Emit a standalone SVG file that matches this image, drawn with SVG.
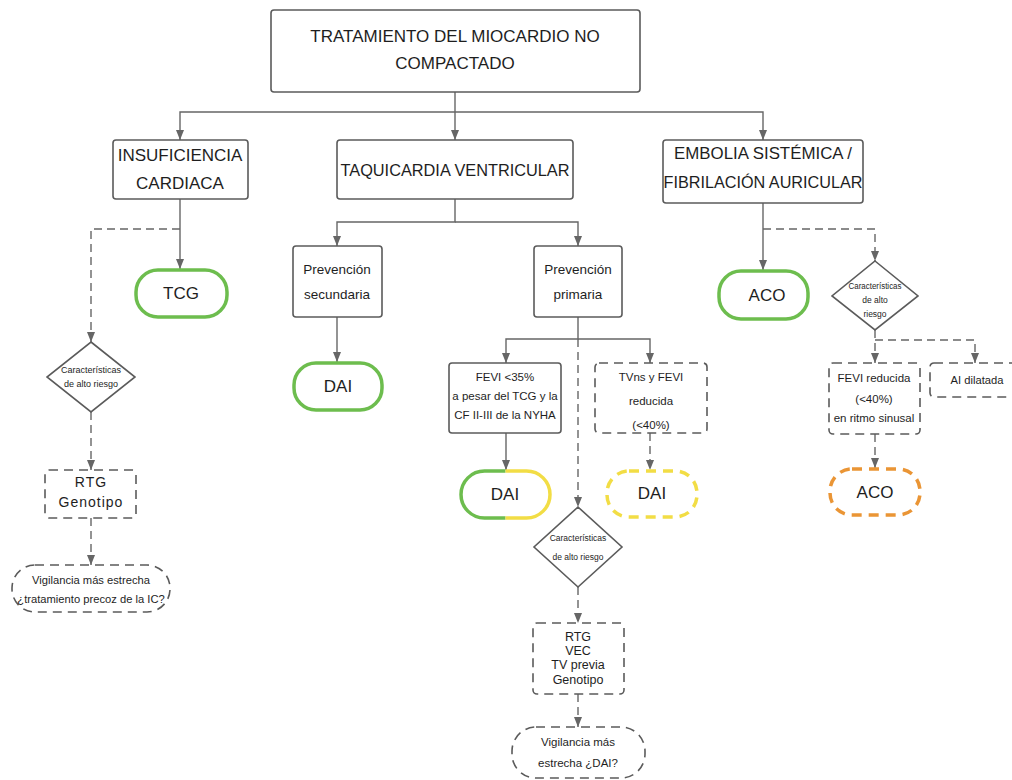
<svg xmlns="http://www.w3.org/2000/svg" width="1012" height="780" viewBox="0 0 1012 780">
<defs>
<style>
.box{fill:#fff;stroke:#5b5b5b;stroke-width:1.6}
.dbox{fill:#fff;stroke:#5b5b5b;stroke-width:1.6;stroke-dasharray:9 6}
.ln{fill:none;stroke:#666;stroke-width:1.4}
.dl{fill:none;stroke:#666;stroke-width:1.4;stroke-dasharray:8 5}
.gp{fill:#fff;stroke:#6dbd4e;stroke-width:3.5}
.yp{fill:none;stroke:#f2dd45;stroke-width:3.5}
.ypd{fill:#fff;stroke:#f2dd45;stroke-width:3.5;stroke-dasharray:10 7}
.op{fill:#fff;stroke:#ea9535;stroke-width:3.5;stroke-dasharray:10 7}
.t{font-family:"Liberation Sans",Arial,Helvetica,sans-serif;fill:#1e1e1e;text-anchor:middle}
.h{font-size:17px}
.m{font-size:13.5px}
.s{font-size:11.5px}
.xs{font-size:9px}
</style>
<marker id="ah" viewBox="0 0 10 8" refX="10" refY="4" markerWidth="10" markerHeight="8" orient="auto" markerUnits="userSpaceOnUse">
<path d="M0,0 L10,4 L0,8 z" fill="#666"/>
</marker>
</defs>
<rect width="1012" height="780" fill="#fff"/>

<g id="connectors">
<path class="ln" d="M455,92 V140" marker-end="url(#ah)"/>
<path class="ln" d="M455,112 H180 V140" marker-end="url(#ah)"/>
<path class="ln" d="M455,112 H763 V140" marker-end="url(#ah)"/>
<path class="ln" d="M180,199 V269" marker-end="url(#ah)"/>
<path class="dl" d="M180,229 H91 V342" marker-end="url(#ah)"/>
<path class="dl" d="M91,412 V470" marker-end="url(#ah)"/>
<path class="dl" d="M91,518 V565" marker-end="url(#ah)"/>
<path class="ln" d="M455,199 V222 H337 V246" marker-end="url(#ah)"/>
<path class="ln" d="M455,222 H578 V246" marker-end="url(#ah)"/>
<path class="ln" d="M337,317 V362" marker-end="url(#ah)"/>
<path class="ln" d="M578,317 V339 H506 V363" marker-end="url(#ah)"/>
<path class="ln" d="M578,339 H650 V363" marker-end="url(#ah)"/>
<path class="dl" d="M578,339 V507" marker-end="url(#ah)"/>
<path class="ln" d="M506,433 V470" marker-end="url(#ah)"/>
<path class="dl" d="M650,433 V470" marker-end="url(#ah)"/>
<path class="dl" d="M578,587 V623" marker-end="url(#ah)"/>
<path class="dl" d="M578,694 V727" marker-end="url(#ah)"/>
<path class="ln" d="M763,203 V270" marker-end="url(#ah)"/>
<path class="dl" d="M763,229 H875 V261" marker-end="url(#ah)"/>
<path class="dl" d="M875,330 V363" marker-end="url(#ah)"/>
<path class="dl" d="M875,340 H975 V363" marker-end="url(#ah)"/>
<path class="dl" d="M875,434 V468" marker-end="url(#ah)"/>
</g>

<g id="title">
<rect class="box" x="271" y="10" width="369" height="82" rx="3"/>
<text class="t h" x="455" y="42">TRATAMIENTO DEL MIOCARDIO NO</text>
<text class="t h" x="455" y="69">COMPACTADO</text>
</g>

<g id="ic">
<rect class="box" x="113" y="140" width="135" height="59" rx="3"/>
<text class="t h" x="180" y="161">INSUFICIENCIA</text>
<text class="t h" x="180" y="189">CARDIACA</text>
</g>

<g id="tcg">
<rect class="gp" x="136" y="270" width="91" height="47" rx="22"/>
<text class="t h" x="181" y="299">TCG</text>
</g>

<g id="riesgo1">
<polygon class="box" points="91,342 135,377 91,412 47,377"/>
<text class="t xs" x="91" y="373">Características</text>
<text class="t xs" x="91" y="387">de alto riesgo</text>
</g>

<g id="rtg1">
<rect class="dbox" x="45" y="470" width="91" height="48" rx="4"/>
<text class="t" x="91" y="487" style="font-size:14px;letter-spacing:1px">RTG</text>
<text class="t" x="91" y="507" style="font-size:14px;letter-spacing:1px">Genotipo</text>
</g>

<g id="vigilancia1">
<rect class="dbox" x="12" y="565" width="158" height="47" rx="23"/>
<text class="t" x="91" y="584" style="font-size:11.2px">Vigilancia más estrecha</text>
<text class="t" x="91" y="603" style="font-size:11.2px">¿tratamiento precoz de la IC?</text>
</g>

<g id="tv">
<rect class="box" x="337" y="140" width="236" height="59" rx="3"/>
<text class="t h" x="455" y="176" textLength="229" lengthAdjust="spacingAndGlyphs">TAQUICARDIA VENTRICULAR</text>
</g>

<g id="prevsec">
<rect class="box" x="293" y="246" width="89" height="71" rx="3"/>
<text class="t m" x="337" y="274">Prevención</text>
<text class="t m" x="337" y="299">secundaria</text>
</g>

<g id="dai1">
<rect class="gp" x="294" y="363" width="88" height="47" rx="22"/>
<text class="t h" x="338" y="392">DAI</text>
</g>

<g id="prevprim">
<rect class="box" x="534" y="246" width="88" height="71" rx="3"/>
<text class="t m" x="578" y="274">Prevención</text>
<text class="t m" x="578" y="299">primaria</text>
</g>

<g id="fevi35">
<rect class="box" x="449" y="363" width="112" height="70" rx="3"/>
<text class="t s" x="505" y="381">FEVI &lt;35%</text>
<text class="t s" x="505" y="400">a pesar del TCG y la</text>
<text class="t s" x="505" y="419">CF II-III de la NYHA</text>
</g>

<g id="dai2">
<rect x="461" y="471" width="89" height="47" rx="23" fill="#fff"/>
<path class="gp" style="fill:none" d="M505.5,471 H484.5 A23.5,23.5 0 0 0 484.5,518 H505.5"/>
<path class="yp" d="M505.5,471 H526.5 A23.5,23.5 0 0 1 526.5,518 H505.5"/>
<text class="t h" x="505" y="500">DAI</text>
</g>

<g id="tvns">
<rect class="dbox" x="595" y="363" width="112" height="70" rx="4"/>
<text class="t s" x="651" y="381">TVns y FEVI</text>
<text class="t s" x="651" y="405">reducida</text>
<text class="t s" x="651" y="429">(&lt;40%)</text>
</g>

<g id="dai3">
<rect class="ypd" x="607" y="471" width="90" height="46" rx="22"/>
<text class="t h" x="652" y="499">DAI</text>
</g>

<g id="riesgo2">
<polygon class="box" points="578,507 622,547 578,587 534,547"/>
<text class="t" x="578" y="541" style="font-size:8.5px">Características</text>
<text class="t" x="578" y="560" style="font-size:8.5px">de alto riesgo</text>
</g>

<g id="rtg2">
<rect class="dbox" x="533" y="623" width="91" height="71" rx="4"/>
<text class="t" x="578" y="641" style="font-size:12.5px">RTG</text>
<text class="t" x="578" y="655" style="font-size:12.5px">VEC</text>
<text class="t" x="578" y="669" style="font-size:12.5px">TV previa</text>
<text class="t" x="578" y="684" style="font-size:12.5px">Genotipo</text>
</g>

<g id="vigilancia2">
<rect class="dbox" x="512" y="727" width="133" height="51" rx="24"/>
<text class="t s" x="578" y="746">Vigilancia más</text>
<text class="t s" x="578" y="767">estrecha ¿DAI?</text>
</g>

<g id="embolia">
<rect class="box" x="663" y="140" width="200" height="63" rx="3"/>
<text class="t" x="763" y="159" style="font-size:16.5px" textLength="178" lengthAdjust="spacingAndGlyphs">EMBOLIA SISTÉMICA /</text>
<text class="t" x="763" y="188" style="font-size:16.5px" textLength="199" lengthAdjust="spacingAndGlyphs">FIBRILACIÓN AURICULAR</text>
</g>

<g id="aco1">
<rect class="gp" x="719" y="271" width="89" height="48" rx="22"/>
<text class="t h" x="767" y="301">ACO</text>
</g>

<g id="riesgo3">
<polygon class="box" points="875,261 918,296 875,330 832,296"/>
<text class="t" x="875" y="289" style="font-size:8.5px" textLength="53" lengthAdjust="spacingAndGlyphs">Características</text>
<text class="t" x="875" y="303" style="font-size:8.5px">de alto</text>
<text class="t" x="875" y="317" style="font-size:8.5px">riesgo</text>
</g>

<g id="fevired">
<rect class="dbox" x="829" y="363" width="91" height="71" rx="4"/>
<text class="t s" x="874" y="382">FEVI reducida</text>
<text class="t s" x="874" y="403">(&lt;40%)</text>
<text class="t s" x="874" y="422">en ritmo sinusal</text>
</g>

<g id="aidilatada">
<rect class="dbox" x="930" y="363" width="100" height="34" rx="4"/>
<text class="t" x="977" y="384" style="font-size:11.2px">AI dilatada</text>
</g>

<g id="aco2">
<rect class="op" x="830" y="469" width="90" height="46" rx="22"/>
<text class="t h" x="875" y="498">ACO</text>
</g>
</svg>
